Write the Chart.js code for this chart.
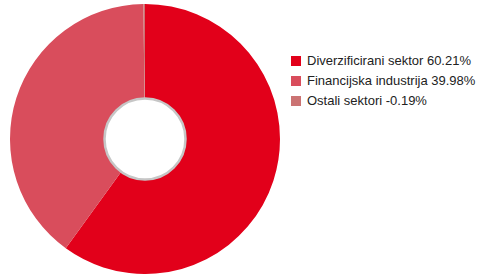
<!DOCTYPE html>
<html>
<head>
<meta charset="utf-8">
<script src="https://cdn.jsdelivr.net/npm/chart.js@4/dist/chart.umd.min.js"></script>
<style>
  html, body { margin: 0; padding: 0; background: #fff; }
  body { width: 480px; height: 275px; position: relative; overflow: hidden; font-family: "Liberation Sans", Arial, sans-serif; }
  #chartBox { position: absolute; left: 10px; top: 4px; width: 270px; height: 270px; }
  #legend { position: absolute; left: 291px; top: 51px; list-style: none; margin: 0; padding: 0; }
  #legend li { height: 20px; line-height: 20px; font-size: 13px; color: #222; white-space: nowrap; }
  #legend .box { display: inline-block; width: 10px; height: 10px; margin-right: 6px; vertical-align: -1px; }
</style>
</head>
<body>
<div id="chartBox"><canvas id="sectorChart"></canvas></div>
<ul id="legend"></ul>
<script>
  // Podaci
  var labels = ['Diverzificirani sektor', 'Financijska industrija', 'Ostali sektori'];
  var values = [60.21, 39.98, -0.19];
  var colors = ['#e2001a', '#d94d5c', '#cb7373'];

  // Legenda
  var legend = document.getElementById('legend');
  labels.forEach(function(name, i) {
    var li = document.createElement('li');
    li.innerHTML = '<span class="box" style="background:' + colors[i] + '"></span>' +
      name + ' ' + values[i].toFixed(2) + '%';
    legend.appendChild(li);
  });

  // siva crta oko rupe
  var holeRing = {
    id: 'holeRing',
    afterDatasetsDraw: function(chart) {
      var arc = chart.getDatasetMeta(0).data[0];
      if (!arc) return;
      var ctx = chart.ctx;
      ctx.save();
      ctx.beginPath();
      ctx.arc(arc.x, arc.y, arc.innerRadius, 0, Math.PI * 2);
      ctx.lineWidth = 2.5;
      ctx.strokeStyle = '#c6c6c6';
      ctx.stroke();
      ctx.restore();
    }
  };

  new Chart(document.getElementById('sectorChart'), {
    type: 'doughnut',
    data: {
      labels: labels,
      datasets: [{
        data: values,
        backgroundColor: colors,
        borderWidth: 0
      }]
    },
    options: {
      responsive: true,
      maintainAspectRatio: false,
      animation: false,
      cutout: '30%',
      layout: { padding: 0 },
      plugins: {
        legend: { display: false },
        tooltip: { enabled: false }
      }
    },
    plugins: [holeRing]
  });
</script>
</body>
</html>
